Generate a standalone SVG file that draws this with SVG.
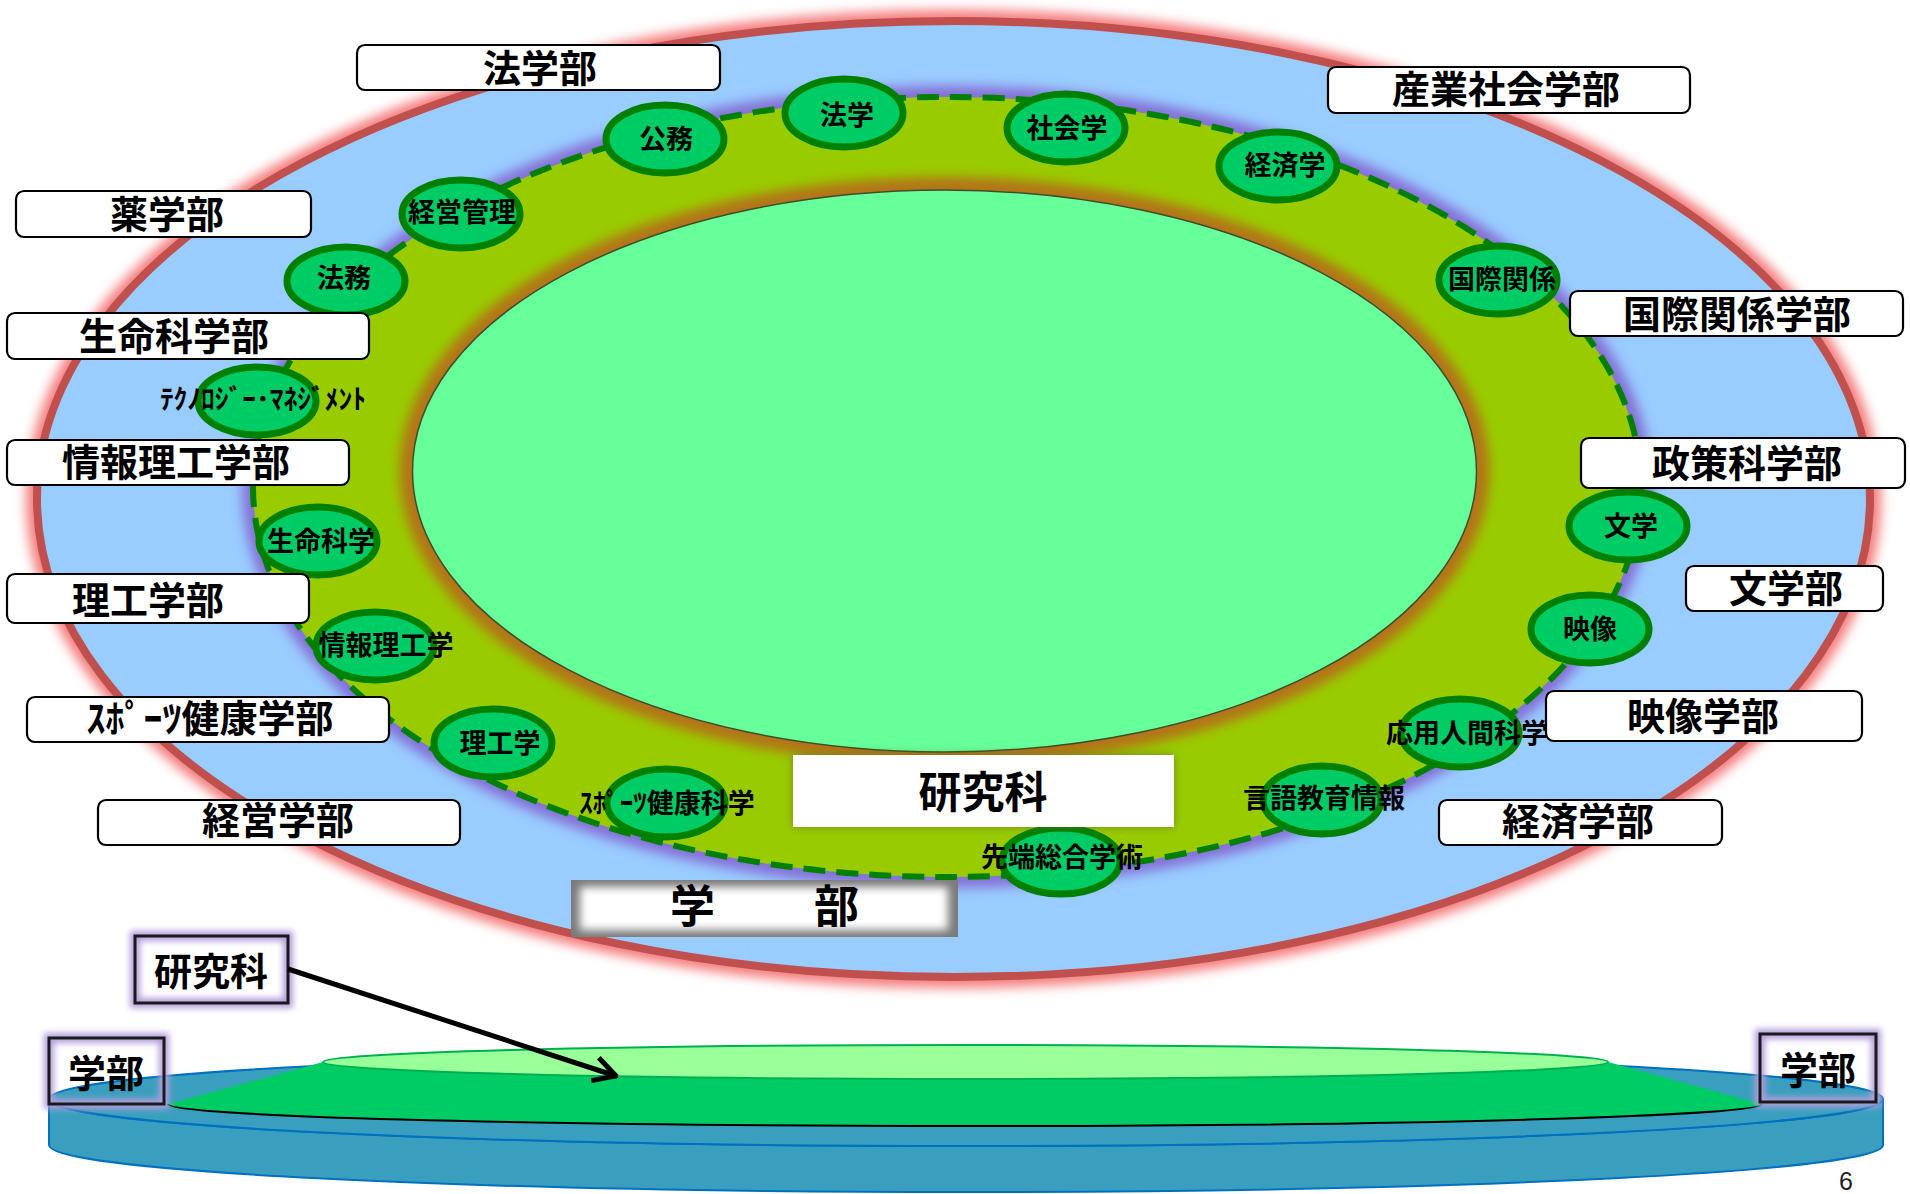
<svg xmlns="http://www.w3.org/2000/svg" width="1910" height="1194" viewBox="0 0 1910 1194">
<defs>
<style>
.jp{font-family:"Noto Sans CJK JP","Noto Sans CJK SC",sans-serif;font-weight:700;fill:#000;text-anchor:middle}
.lt{font-size:38px}
.nt{font-size:27px}
.node ellipse{fill:#00cc66;stroke:#008000;stroke-width:7}
.lbl rect{fill:#fff;stroke:#000;stroke-width:2.2}
.sbox .glow{fill:none;stroke:#b39ddb;stroke-width:10;filter:url(#b3)}
.sbox .frame{fill:none;stroke:#1a1a1a;stroke-width:3}
</style>
<filter id="b6" x="-10%" y="-10%" width="120%" height="120%"><feGaussianBlur stdDeviation="6"/></filter>
<filter id="b3" x="-40%" y="-60%" width="180%" height="220%"><feGaussianBlur stdDeviation="3"/></filter>
<filter id="b5" x="-20%" y="-60%" width="140%" height="220%"><feGaussianBlur stdDeviation="5"/></filter>
<filter id="b4" x="-20%" y="-60%" width="140%" height="220%"><feGaussianBlur stdDeviation="4"/></filter>
<clipPath id="gbClip"><rect x="571" y="880" width="387" height="57"/></clipPath>
<marker id="arrow" viewBox="0 0 30 30" refX="28" refY="15" markerWidth="30" markerHeight="30" markerUnits="userSpaceOnUse" orient="auto">
<path d="M6,3 L28,15 L6,27" fill="none" stroke="#000" stroke-width="5" stroke-linejoin="miter"/>
</marker>
</defs>

<g id="rings">
<ellipse cx="953.5" cy="499" rx="916.5" ry="478" fill="none" stroke="#f47c7c" stroke-width="22" filter="url(#b6)"/>
<ellipse cx="953.5" cy="499" rx="916.5" ry="478" fill="#99ccff" stroke="#c0504d" stroke-width="8"/>
<ellipse cx="947" cy="487" rx="694" ry="390" fill="none" stroke="#8470d6" stroke-width="22" filter="url(#b6)"/>
<ellipse cx="947" cy="487" rx="694" ry="390" fill="#99cc00"/>
<ellipse cx="944.5" cy="471" rx="532" ry="281" fill="none" stroke="#b8651e" stroke-width="26" filter="url(#b6)" opacity="0.85"/>
<ellipse cx="944.5" cy="471" rx="532" ry="281" fill="#66ff99" stroke="#3d4d2d" stroke-width="1.5"/>
<ellipse cx="947" cy="487" rx="694" ry="390" fill="none" stroke="#008000" stroke-width="6" stroke-dasharray="22 11"/>
</g>

<g id="nodes">
<g id="n-hougaku" class="node"><ellipse cx="844" cy="113" rx="59" ry="34"/><text class="jp nt" x="847" y="125">法学</text></g>
<g id="n-koumu" class="node"><ellipse cx="665" cy="139" rx="59" ry="34"/><text class="jp nt" x="666" y="149">公務</text></g>
<g id="n-keiei" class="node"><ellipse cx="461" cy="214" rx="59" ry="34"/><text class="jp nt" x="462" y="222">経営管理</text></g>
<g id="n-houmu" class="node"><ellipse cx="346" cy="281" rx="59" ry="34"/><text class="jp nt" x="344" y="288">法務</text></g>
<g id="n-tech" class="node"><ellipse cx="257" cy="401" rx="59" ry="34"/><text class="jp nt" x="263" y="409" style="font-size:27.5px">ﾃｸﾉﾛｼﾞｰ･ﾏﾈｼﾞﾒﾝﾄ</text></g>
<g id="n-seimei" class="node"><ellipse cx="318" cy="541" rx="59" ry="34"/><text class="jp nt" x="321" y="551">生命科学</text></g>
<g id="n-jouhou" class="node"><ellipse cx="375" cy="646" rx="59" ry="34"/><text class="jp nt" x="386" y="655">情報理工学</text></g>
<g id="n-riko" class="node"><ellipse cx="493" cy="743" rx="59" ry="34"/><text class="jp nt" x="500" y="753">理工学</text></g>
<g id="n-sports" class="node"><ellipse cx="666" cy="803" rx="59" ry="34"/><text class="jp nt" x="667" y="813">ｽﾎﾟｰﾂ健康科学</text></g>
<g id="n-sentan" class="node"><ellipse cx="1061" cy="861" rx="59" ry="33"/><text class="jp nt" x="1062" y="867">先端総合学術</text></g>
<g id="n-gengo" class="node"><ellipse cx="1322" cy="800" rx="59" ry="34"/><text class="jp nt" x="1324" y="808">言語教育情報</text></g>
<g id="n-ouyou" class="node"><ellipse cx="1460" cy="733" rx="59" ry="34"/><text class="jp nt" x="1467" y="743">応用人間科学</text></g>
<g id="n-eizou" class="node"><ellipse cx="1590" cy="629" rx="59" ry="34"/><text class="jp nt" x="1590" y="639">映像</text></g>
<g id="n-bungaku" class="node"><ellipse cx="1628" cy="526" rx="59" ry="34"/><text class="jp nt" x="1631" y="536">文学</text></g>
<g id="n-kokusai" class="node"><ellipse cx="1498" cy="280" rx="59" ry="34"/><text class="jp nt" x="1502" y="289">国際関係</text></g>
<g id="n-keizai" class="node"><ellipse cx="1278" cy="166" rx="59" ry="34"/><text class="jp nt" x="1285" y="175">経済学</text></g>
<g id="n-shakai" class="node"><ellipse cx="1066" cy="128" rx="59" ry="34"/><text class="jp nt" x="1067" y="138">社会学</text></g>
</g>

<g id="labels">
<g id="l-hougakubu" class="lbl"><rect x="357" y="45" width="363" height="45" rx="8"/><text class="jp lt" x="540" y="81.5">法学部</text></g>
<g id="l-sangyou" class="lbl"><rect x="1328" y="67" width="362" height="46" rx="8"/><text class="jp lt" x="1506" y="103">産業社会学部</text></g>
<g id="l-yakugaku" class="lbl"><rect x="16" y="191" width="295" height="46" rx="8"/><text class="jp lt" x="167" y="227.5">薬学部</text></g>
<g id="l-kokusai" class="lbl"><rect x="1570" y="291" width="333" height="45" rx="8"/><text class="jp lt" x="1737" y="327.5">国際関係学部</text></g>
<g id="l-seimei" class="lbl"><rect x="7" y="313" width="362" height="46" rx="8"/><text class="jp lt" x="174" y="349.5">生命科学部</text></g>
<g id="l-jouhou" class="lbl"><rect x="7" y="440" width="342" height="45" rx="8"/><text class="jp lt" x="176" y="475.5">情報理工学部</text></g>
<g id="l-seisaku" class="lbl"><rect x="1581" y="438" width="324" height="50" rx="8"/><text class="jp lt" x="1747" y="476.5">政策科学部</text></g>
<g id="l-bungaku" class="lbl"><rect x="1686" y="566" width="197" height="45" rx="8"/><text class="jp lt" x="1786" y="601.5">文学部</text></g>
<g id="l-riko" class="lbl"><rect x="7" y="574" width="302" height="49" rx="8"/><text class="jp lt" x="148" y="613.5">理工学部</text></g>
<g id="l-sports" class="lbl"><rect x="27" y="697" width="362" height="45" rx="8"/><text class="jp lt" x="210" y="731.5">ｽﾎﾟｰﾂ健康学部</text></g>
<g id="l-eizou" class="lbl"><rect x="1546" y="691" width="316" height="50" rx="8"/><text class="jp lt" x="1703" y="729.5">映像学部</text></g>
<g id="l-keiei" class="lbl"><rect x="98" y="800" width="362" height="45" rx="8"/><text class="jp lt" x="278" y="833.5">経営学部</text></g>
<g id="l-keizai" class="lbl"><rect x="1439" y="800" width="283" height="45" rx="8"/><text class="jp lt" x="1578" y="834.5">経済学部</text></g>
</g>

<g id="kenkyuka-big">
<rect x="793" y="755" width="381" height="72" fill="#5f6f20" opacity="0.7" filter="url(#b5)"/>
<rect x="793" y="755" width="381" height="72" fill="#fff"/>
<text class="jp" x="983" y="808" style="font-size:43px">研究科</text>
</g>

<g id="gakubu-big">
<g clip-path="url(#gbClip)">
<rect x="571" y="880" width="387" height="57" fill="#7a7a7a"/>
<rect x="580" y="887" width="368" height="43" fill="#fff" filter="url(#b4)"/>
</g>
<text class="jp" x="670" y="923" style="font-size:45px;text-anchor:start;letter-spacing:3px">学　　部</text>
</g>

<g id="disc">
<path d="M49,1099 A917,47 0 0 0 1883,1099 L1883,1145 A917,47 0 0 1 49,1145 Z" fill="#3a9fbe" stroke="#0070c0" stroke-width="2"/>
<ellipse cx="966" cy="1099" rx="917" ry="47" fill="#3a9fbe" stroke="#0070c0" stroke-width="2"/>
<path d="M323,1062 L168,1104 A797,22 0 0 0 1762,1104 L1608,1062 Z" fill="#00cc66"/>
<path d="M168,1104 A797,22 0 0 0 1762,1104" fill="none" stroke="#000" stroke-width="2"/>
<ellipse cx="965.5" cy="1062" rx="642.5" ry="17" fill="#99ff99" stroke="#00b050" stroke-width="2"/>
</g>

<g id="sb-kenkyuka" class="sbox"><rect class="glow" x="135" y="936" width="153" height="67"/><rect class="frame" x="135" y="936" width="153" height="67"/><text class="jp lt" x="211" y="984.5">研究科</text></g>
<g id="sb-gakubu-l" class="sbox"><rect class="glow" x="49" y="1038" width="115" height="66"/><rect class="frame" x="49" y="1038" width="115" height="66"/><text class="jp lt" x="106" y="1086.5">学部</text></g>
<g id="sb-gakubu-r" class="sbox"><rect class="glow" x="1760" y="1034" width="116" height="68"/><rect class="frame" x="1760" y="1034" width="116" height="68"/><text class="jp lt" x="1818" y="1083.5">学部</text></g>

<g id="connectors">
<line x1="288" y1="969" x2="616" y2="1076" stroke="#000" stroke-width="5" marker-end="url(#arrow)"/>
</g>

<text x="1846" y="1190" font-family="Liberation Sans, sans-serif" font-size="25" fill="#222" text-anchor="middle">6</text>
</svg>
